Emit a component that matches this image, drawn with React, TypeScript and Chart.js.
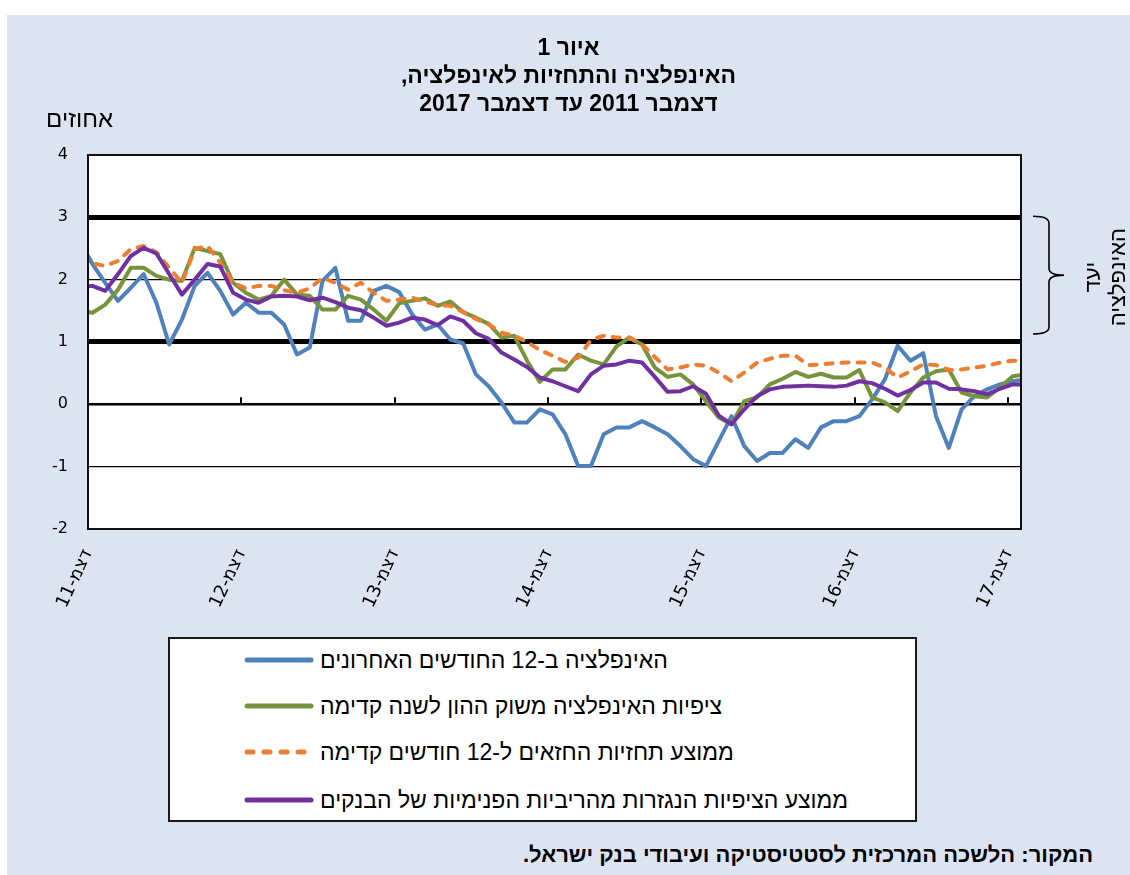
import React, { useEffect, useRef } from "react";
import { Chart, registerables } from "chart.js";

Chart.register(...registerables);

// ---------- data ----------
// monthly observations from Nov 2011 to Jan 2018 (the axis shows Dec 2011 - Dec 2017)
const firstYear = 2011;
const firstMonth = 11;

// האינפלציה ב-12 החודשים האחרונים
const inflation = [
  2.62, 2.25, 1.95, 1.66, 1.87, 2.09, 1.63, 0.96, 1.36, 1.9, 2.11, 1.82, 1.44,
  1.63, 1.47, 1.47, 1.28, 0.8, 0.91, 1.98, 2.19, 1.34, 1.34, 1.82, 1.9,
  1.8, 1.45, 1.2, 1.28, 1.04, 0.98, 0.48, 0.29, 0.03, -0.29, -0.29, -0.08,
  -0.16, -0.48, -0.99, -0.99, -0.48, -0.37, -0.37, -0.27, -0.37, -0.48, -0.67, -0.88,
  -0.99, -0.59, -0.19, -0.67, -0.91, -0.78, -0.78, -0.56, -0.7, -0.37, -0.27, -0.27,
  -0.19, 0.08, 0.4, 0.94, 0.7, 0.82, -0.19, -0.7, -0.08, 0.13, 0.24, 0.32,
  0.37, 0.4,
];

// ציפיות האינפלציה משוק ההון לשנה קדימה
const capitalMarket = [
  1.5, 1.47, 1.6, 1.84, 2.19, 2.19, 2.06, 2.0, 1.98, 2.51, 2.46, 2.41, 1.95,
  1.79, 1.68, 1.74, 2.0, 1.76, 1.74, 1.52, 1.52, 1.74, 1.68, 1.52, 1.34,
  1.62, 1.66, 1.7, 1.58, 1.65, 1.48, 1.39, 1.29, 1.07, 1.1, 0.7, 0.36,
  0.56, 0.56, 0.8, 0.7, 0.64, 0.93, 1.07, 0.96, 0.59, 0.44, 0.48, 0.32,
  0.05, -0.21, -0.32, 0.05, 0.11, 0.32, 0.41, 0.52, 0.44, 0.49, 0.43, 0.43,
  0.55, 0.11, 0.03, -0.11, 0.19, 0.43, 0.53, 0.56, 0.19, 0.13, 0.11, 0.27,
  0.45, 0.48,
];

// ממוצע תחזיות החזאים ל-12 חודשים קדימה
const forecasters = [
  2.28, 2.26, 2.22, 2.3, 2.49, 2.54, 2.44, 2.19, 1.95, 2.49, 2.54, 2.27, 1.95,
  1.86, 1.9, 1.9, 1.83, 1.79, 1.86, 2.03, 1.95, 1.84, 1.95, 1.79, 1.66,
  1.68, 1.71, 1.65, 1.59, 1.58, 1.48, 1.37, 1.28, 1.15, 1.1, 1.0, 0.87,
  0.78, 0.68, 0.75, 1.03, 1.1, 1.07, 1.07, 0.96, 0.76, 0.56, 0.59, 0.64,
  0.62, 0.51, 0.37, 0.51, 0.67, 0.73, 0.78, 0.78, 0.63, 0.64, 0.66, 0.67,
  0.67, 0.67, 0.59, 0.43, 0.53, 0.64, 0.63, 0.55, 0.56, 0.59, 0.62, 0.67,
  0.7, 0.7,
];

// ממוצע הציפיות הנגזרות מהריביות הפנימיות של הבנקים
const banks = [
  1.88, 1.9, 1.82, 2.09, 2.38, 2.51, 2.42, 2.09, 1.76, 2.0, 2.25, 2.21, 1.79,
  1.68, 1.63, 1.73, 1.74, 1.73, 1.67, 1.71, 1.64, 1.55, 1.51, 1.39, 1.26,
  1.31, 1.39, 1.36, 1.27, 1.41, 1.34, 1.14, 1.05, 0.83, 0.72, 0.6, 0.43,
  0.37, 0.29, 0.21, 0.48, 0.62, 0.64, 0.7, 0.67, 0.44, 0.2, 0.21, 0.29,
  0.17, -0.18, -0.32, -0.08, 0.13, 0.24, 0.28, 0.29, 0.3, 0.29, 0.28, 0.3,
  0.37, 0.34, 0.25, 0.14, 0.23, 0.35, 0.35, 0.25, 0.24, 0.21, 0.16, 0.25,
  0.32, 0.32,
];

const seriesNames = [
  "האינפלציה ב-12 החודשים האחרונים",
  "ציפיות האינפלציה משוק ההון לשנה קדימה",
  "ממוצע תחזיות החזאים ל-12 חודשים קדימה",
  "ממוצע הציפיות הנגזרות מהריביות הפנימיות של הבנקים",
];
const seriesColors = ["#4F81BD", "#77933C", "#ED7D31", "#7030A0"];
const seriesDashed = [false, false, true, false];

const xTickLabels = ["דצמ-11", "דצמ-12", "דצמ-13", "דצמ-14", "דצמ-15", "דצמ-16", "דצמ-17"];
const yMin = -2;
const yMax = 4;
const targetBand = [1, 3];

const titleLines = ["איור 1", "האינפלציה והתחזיות לאינפלציה,\u200F", "דצמבר 2011 עד דצמבר 2017"];
const yUnit = "אחוזים";
const bandLabel = ["יעד", "האינפלציה"];
const sourceNote = "המקור: הלשכה המרכזית לסטטיסטיקה ועיבודי בנק ישראל.";

// ---------- helpers ----------
const axisStartMonths = 2011 * 12 + 12; // Dec 2011 = axis origin
const obsDayOffset = 0.35; // observations fall ~10 days into each month
const xValues = inflation.map((_, i) => {
  const m = firstYear * 12 + firstMonth + i;
  return m - axisStartMonths + obsDayOffset;
});
const xTickMonths = xTickLabels.map((_, i) => i * 12);
const xMax = xTickMonths[xTickMonths.length - 1] + 1;

const allSeries = [inflation, capitalMarket, forecasters, banks];

const HEB = "'Liberation Sans', Arial, sans-serif";
const NUM = "'DejaVu Sans', 'Liberation Sans', sans-serif";

export default function App() {
  const canvasRef = useRef<HTMLCanvasElement | null>(null);

  useEffect(() => {
    const canvas = canvasRef.current;
    if (!canvas) return;

    const decor = {
      id: "decor",
      beforeDraw(chart: any) {
        const { ctx, chartArea } = chart;
        ctx.save();
        ctx.fillStyle = "#ffffff";
        ctx.fillRect(chartArea.left, chartArea.top, chartArea.right - chartArea.left, chartArea.bottom - chartArea.top);
        ctx.restore();
      },
      beforeDatasetsDraw(chart: any) {
        const { ctx } = chart;
        const xs = chart.scales.x;
        const ys = chart.scales.y;
        const y0 = ys.getPixelForValue(0);
        ctx.save();
        ctx.strokeStyle = "#000";
        ctx.lineWidth = 2;
        xTickMonths.forEach((v) => {
          const px = Math.round(xs.getPixelForValue(v));
          ctx.beginPath();
          ctx.moveTo(px, y0);
          ctx.lineTo(px, y0 - 7);
          ctx.stroke();
        });
        ctx.restore();
      },
      afterDatasetsDraw(chart: any) {
        const { ctx, chartArea } = chart;
        ctx.save();
        ctx.strokeStyle = "#111";
        ctx.lineWidth = 2;
        ctx.strokeRect(chartArea.left, chartArea.top, chartArea.right - chartArea.left, chartArea.bottom - chartArea.top);
        ctx.restore();
      },
      afterDraw(chart: any) {
        const { ctx, chartArea } = chart;
        const ys = chart.scales.y;
        ctx.save();
        // unit label
        ctx.fillStyle = "#000";
        ctx.font = `24px ${HEB}`;
        ctx.textAlign = "right";
        ctx.textBaseline = "middle";
        ctx.fillText(yUnit, chartArea.left + 25, chartArea.top - 35);

        // bracket for the inflation target band
        const top = ys.getPixelForValue(targetBand[1]) - 1;
        const bot = ys.getPixelForValue(targetBand[0]) - 8;
        const mid = (top + bot) / 2;
        const xl = chartArea.right + 12;
        const xv = chartArea.right + 28;
        const xt = chartArea.right + 43;
        const r = 7;
        ctx.strokeStyle = "#000";
        ctx.lineWidth = 1.6;
        ctx.beginPath();
        ctx.moveTo(xl, top);
        ctx.quadraticCurveTo(xv, top, xv, top + r);
        ctx.lineTo(xv, mid - r);
        ctx.quadraticCurveTo(xv, mid, xt, mid);
        ctx.quadraticCurveTo(xv, mid, xv, mid + r);
        ctx.lineTo(xv, bot - r);
        ctx.quadraticCurveTo(xv, bot, xl, bot);
        ctx.stroke();

        // rotated label
        ctx.font = `22px ${HEB}`;
        ctx.textAlign = "center";
        ctx.textBaseline = "middle";
        bandLabel.forEach((t, i) => {
          ctx.save();
          ctx.translate(chartArea.right + 73 + i * 25, mid + 2);
          ctx.rotate(-Math.PI / 2);
          ctx.fillText(t, 0, 0);
          ctx.restore();
        });
        ctx.restore();
      },
    };

    const chart = new Chart(canvas, {
      type: "line",
      data: {
        datasets: allSeries.map((vals, si) => ({
          label: seriesNames[si],
          data: vals.map((v, i) => ({ x: xValues[i], y: v })),
          borderColor: seriesColors[si],
          backgroundColor: seriesColors[si],
          borderWidth: 4,
          borderDash: seriesDashed[si] ? [7, 9] : [],
          borderCapStyle: seriesDashed[si] ? "round" : "butt",
          borderJoinStyle: "round",
          pointRadius: 0,
          pointHoverRadius: 0,
          tension: 0,
          fill: false,
          order: allSeries.length - si,
        })),
      },
      options: {
        responsive: false,
        animation: false,
        devicePixelRatio: 1,
        layout: { padding: 0 },
        plugins: {
          legend: { display: false },
          tooltip: { enabled: false },
          title: {
            display: true,
            text: titleLines,
            color: "#000",
            font: { family: HEB, size: 23, weight: "bold", lineHeight: 1.217 },
            padding: { top: 20, bottom: 36 },
          },
        },
        scales: {
          x: {
            type: "linear",
            min: 0,
            max: xMax,
            grid: { display: false },
            border: { display: false },
            afterBuildTicks: (s: any) => {
              s.ticks = xTickMonths.map((v) => ({ value: v }));
            },
            afterFit: (s: any) => {
              s.height = 106;
            },
            ticks: {
              autoSkip: false,
              minRotation: 65,
              maxRotation: 65,
              padding: 9,
              color: "#000",
              font: { family: NUM, size: 18 },
              callback: (_v: any, i: number) => xTickLabels[i],
            },
          },
          y: {
            min: yMin,
            max: yMax,
            border: { display: false },
            afterFit: (s: any) => {
              s.width = 81;
            },
            grid: {
              drawTicks: false,
              color: "#000",
              lineWidth: (c: any) => {
                const v = c.tick ? c.tick.value : 0;
                if (v === targetBand[0] || v === targetBand[1]) return 5;
                if (v === 0) return 2.5;
                if (v === yMin || v === yMax) return 2;
                return 1.3;
              },
            },
            ticks: {
              stepSize: 1,
              padding: 20,
              color: "#000",
              font: { family: NUM, size: 16 },
            },
          },
          // empty right-hand margin that holds the target-band bracket
          yRight: {
            type: "linear",
            position: "right",
            min: yMin,
            max: yMax,
            grid: { display: false },
            border: { display: false },
            ticks: { display: false },
            afterFit: (s: any) => {
              s.width = 109;
            },
          },
        },
      },
      plugins: [decor],
    });

    return () => chart.destroy();
  }, []);

  return (
    <div
      style={{
        position: "absolute",
        left: 7,
        top: 15,
        width: 1123,
        height: 860,
        background: "#dde4f1",
        fontFamily: HEB,
        overflow: "hidden",
      }}
    >
      <canvas ref={canvasRef} width={1123} height={620} style={{ display: "block" }} />
      <div
        style={{
          position: "absolute",
          left: 161,
          top: 622,
          width: 749,
          height: 185,
          boxSizing: "border-box",
          background: "#fff",
          border: "2px solid #1a1a1a",
        }}
      >
        {seriesNames.map((name, i) => (
          <div
            key={name}
            dir="ltr"
            style={{
              position: "absolute",
              left: 74,
              top: [21, 67, 113, 161][i] - 14,
              height: 28,
              display: "flex",
              alignItems: "center",
              whiteSpace: "nowrap",
            }}
          >
            <svg width={70} height={10} style={{ display: "block" }}>
              <line
                x1={3}
                y1={5}
                x2={67}
                y2={5}
                stroke={seriesColors[i]}
                strokeWidth={5}
                strokeLinecap="round"
                strokeDasharray={seriesDashed[i] ? "6 11" : undefined}
              />
            </svg>
            <span dir="rtl" style={{ marginLeft: 6, fontSize: 23, color: "#000", lineHeight: "28px" }}>
              {name}
            </span>
          </div>
        ))}
      </div>
      <div
        dir="rtl"
        style={{
          position: "absolute",
          right: 37,
          top: 827,
          fontSize: 22,
          fontWeight: "bold",
          color: "#000",
          whiteSpace: "nowrap",
          lineHeight: "26px",
        }}
      >
        {sourceNote}
      </div>
    </div>
  );
}
